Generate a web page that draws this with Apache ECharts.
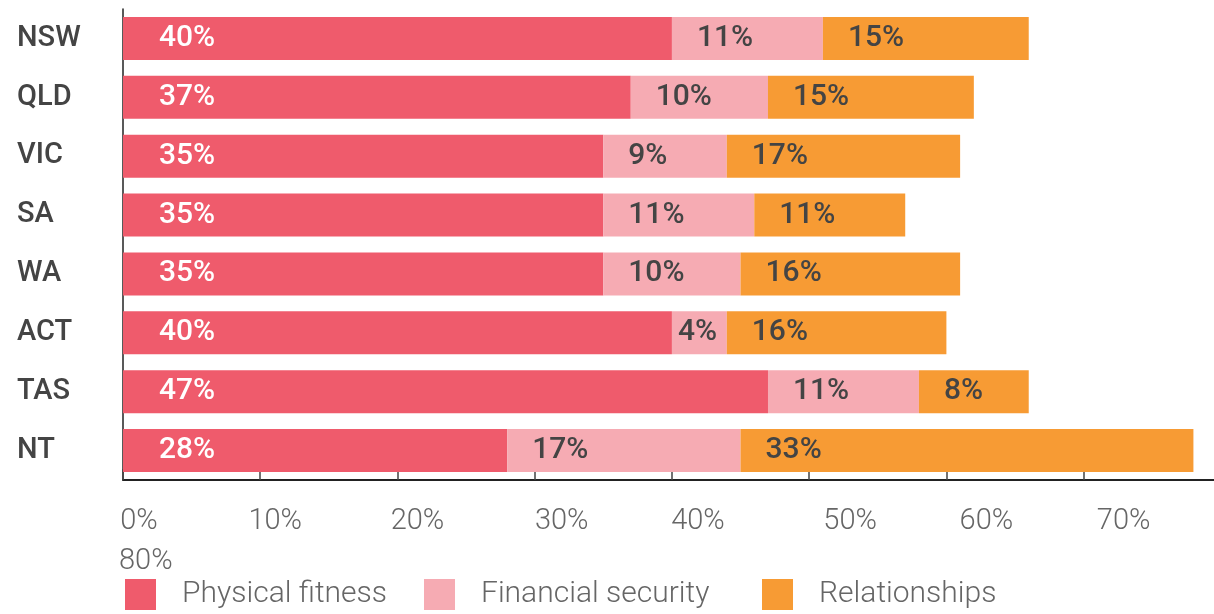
<!DOCTYPE html>
<html>
<head>
<meta charset="utf-8">
<script src="https://cdn.jsdelivr.net/npm/echarts@6/dist/echarts.min.js"></script>
<style>
html,body{margin:0;padding:0;background:#fff;}
#chart{width:1214px;height:614px;}
</style>
</head>
<body>
<div id="chart"></div>
<script>
const categories = ['NSW','QLD','VIC','SA','WA','ACT','TAS','NT'];
const physicalFitness = [40,37,35,35,35,40,47,28];
const financialSecurity = [11,10,9,11,10,4,11,17];
const relationships = [15,15,17,11,16,16,8,33];
const seriesNames = ['Physical fitness','Financial security','Relationships'];
const tickValues = [0,10,20,30,40,50,60,70,80];

const colors = ['#EF5B6C','#F6ABB3','#F79B34'];
// horizontal nudge of each tick label (px), as in the reference
const labelShift = [16,15,20,27,26,41,40,40,0];
// the visible part of the axis ends a little before 80%
const axisMax = 79.5;

const FONT = 'Roboto';
const rich = {};
labelShift.forEach((s,i)=>{
  rich['t'+i] = {fontFamily:FONT,fontSize:29,fontWeight:300,color:'#666',padding:[0,0,0,2*s]};
});

function mkData(arr){
  return arr.map(v => {
    const d = {value:v};
    if (v < 6) d.label = {distance: 6};
    return d;
  });
}

const allSeries = [physicalFitness, financialSecurity, relationships].map((arr,i)=>({
  name: seriesNames[i],
  type:'bar',
  stack:'total',
  barWidth:43,
  data: mkData(arr),
  itemStyle:{color:colors[i]},
  label:{
    show:true,
    position:'insideLeft',
    distance: i===0 ? 36 : 25,
    formatter:'{c}%',
    fontFamily:FONT,
    fontSize:30,
    fontWeight:500,
    padding:[3,0,0,0],
    color: i===0 ? '#fff' : '#444'
  },
  emphasis:{disabled:true}
}));

const chart = echarts.init(document.getElementById('chart'), null, {renderer:'canvas'});
const legends = seriesNames.map((n,i)=>({
  data:[n],
  left:[125,424,762][i],
  top:579,
  padding:0,
  itemWidth:31,
  itemHeight:31,
  icon:'rect',
  selectedMode:false,
  textStyle:{fontFamily:FONT,fontSize:30,fontWeight:300,color:'#666',padding:[6,0,0,21]}
}));

chart.setOption({
  animation:false,
  color:colors,
  legend:legends,
  grid:{left:123,top:9,bottom:134,right:0,containLabel:false},
  xAxis:{
    type:'value',
    min:0,max:axisMax,interval:10,
    axisLine:{show:true,lineStyle:{color:'#222',width:2}},
    axisTick:{show:true,inside:true,length:11,lineStyle:{color:'#444',width:1.5}},
    splitLine:{show:false},
    axisLabel:{
      margin:27,
      showMaxLabel:false,
      formatter:(v)=>{
        const i = tickValues.indexOf(v);
        if (i < 0 || v===80) return '';
        return '{t'+i+'|'+v+'%}';
      },
      rich:rich
    }
  },
  yAxis:{
    type:'category',
    data:categories,
    inverse:true,
    axisLine:{show:true,lineStyle:{color:'#222',width:1.5}},
    axisTick:{show:false},
    axisLabel:{
      align:'left',
      margin:106,
      padding:[5,0,0,0],
      fontFamily:FONT,fontSize:29,fontWeight:500,color:'#444'
    }
  },
  graphic:[{
    type:'text',
    left:119,
    top:547,
    style:{text:tickValues[8]+'%',fontFamily:FONT,fontSize:29,fontWeight:300,fill:'#666'}
  }],
  series:allSeries
});
</script>
</body>
</html>
